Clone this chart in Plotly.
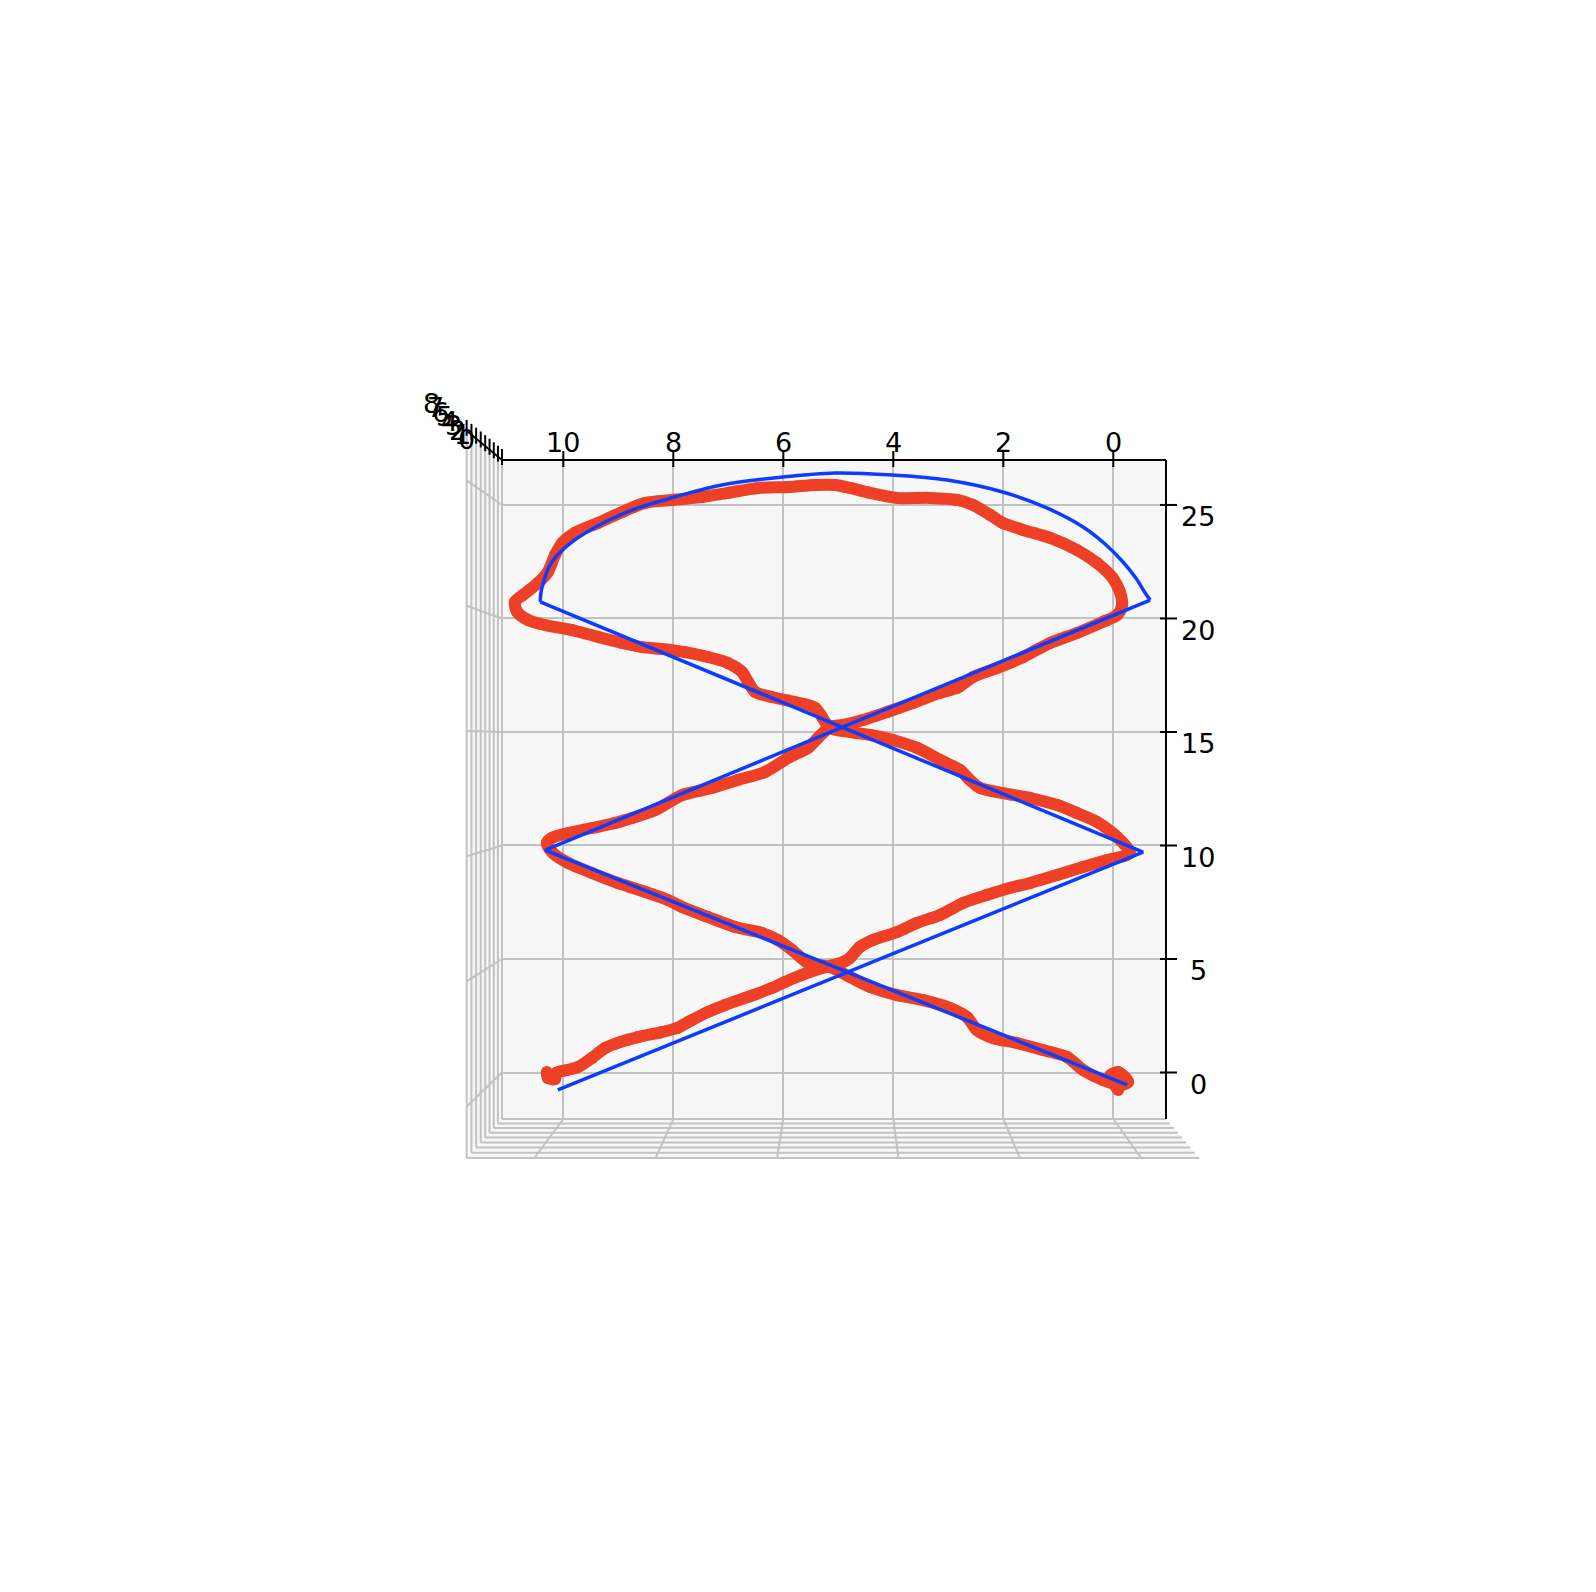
import plotly.graph_objects as go

# ---------------- data ----------------
red_x = [10.30, 10.28, 10.15, 10.13, 9.93, 9.73, 9.48, 9.24, 8.97, 8.64, 8.21, 7.93, 7.73, 7.37, 7.06, 6.64, 6.21, 5.97, 5.66, 5.30,
         4.91, 4.79, 4.61, 4.37, 3.93, 3.57, 3.15, 2.73, 2.30, 1.88, 1.51, 1.02, 0.55, 0.11, -0.30,
         -0.07, 0.30, 0.66, 1.02, 1.51, 2.01, 2.42, 2.61, 2.79, 3.15, 3.57, 4.01, 4.42, 4.79, 5.15, 5.42, 5.79, 6.21, 6.51, 6.64,
         6.75, 7.01, 7.37, 7.79, 8.21, 8.57, 8.93, 9.37, 9.84, 10.33, 10.64, 10.84,
         10.88, 10.73, 10.46, 10.28, 10.15, 10.02, 9.79, 9.37, 8.93, 8.51, 8.02, 7.48, 7.01, 6.46, 5.91, 5.42, 5.06, 4.79, 4.42, 3.93,
         3.33, 2.84, 2.55, 2.24, 2.01, 1.64, 1.15, 0.66, 0.30, 0.01, -0.12, -0.16,
         -0.07, 0.19, 0.66, 1.15, 1.64, 2.11, 2.55, 2.84, 3.15, 3.64, 4.11, 4.55, 4.91, 5.15, 5.37, 5.55, 5.91, 6.33, 6.82, 7.30,
         7.84, 8.33, 8.75, 9.06, 9.48, 9.91, 10.21, 10.30,
         10.19, 9.91, 9.48, 9.01, 8.51, 8.10, 7.84, 7.37, 6.88, 6.39, 6.10, 5.84, 5.55, 5.15, 4.79, 4.42, 3.93, 3.46, 2.97, 2.66,
         2.48, 2.19, 1.75, 1.28, 0.84, 0.55, 0.19, -0.12, -0.27, -0.09, 0.06, -0.09]
red_z = [0.02, -0.24, -0.29, -0.02, 0.11, 0.24, 0.64, 1.08, 1.34, 1.56, 1.78, 1.96, 2.22, 2.67, 2.97, 3.33, 3.72, 3.99, 4.30, 4.60,
         4.87, 5.04, 5.53, 5.84, 6.19, 6.59, 6.94, 7.47, 7.82, 8.13, 8.35, 8.70, 9.05, 9.36, 9.67,
         10.37, 11.04, 11.43, 11.78, 12.09, 12.31, 12.53, 12.89, 13.33, 13.77, 14.30, 14.65, 14.87, 15.00, 15.18, 16.06, 16.32, 16.54, 16.76, 17.20,
         17.64, 18.04, 18.30, 18.52, 18.66, 18.74, 18.92, 19.19, 19.49, 19.71, 19.93, 20.29,
         20.73, 21.04, 21.57, 22.05, 22.80, 23.33, 23.77, 24.21, 24.69, 25.09, 25.22, 25.35, 25.53, 25.75, 25.79, 25.88, 25.88, 25.75, 25.53, 25.31,
         25.31, 25.22, 25.00, 24.56, 24.21, 23.90, 23.55, 23.02, 22.45, 21.78, 21.17, 20.59,
         20.15, 19.85, 19.36, 18.92, 18.30, 17.82, 17.42, 16.94, 16.72, 16.28, 15.88, 15.53, 15.31, 15.22, 14.74, 14.30, 13.86, 13.24, 12.89, 12.53,
         12.22, 11.56, 11.21, 10.99, 10.77, 10.55, 10.33, 10.11,
         9.67, 9.23, 8.79, 8.35, 7.95, 7.60, 7.29, 6.85, 6.41, 6.15, 5.84, 5.40, 4.82, 4.65, 4.21, 3.77, 3.41, 3.19, 2.84, 2.44,
         1.87, 1.52, 1.30, 0.99, 0.68, 0.11, -0.33, -0.55, -0.42, 0.02, -0.15, -0.77]

blue_leg1_x = [10.10, -0.54, 10.42]
blue_leg1_z = [-0.77, 9.71, 20.73]
blue_arc_x = [10.42, 10.39, 10.21, 9.84, 9.24, 8.64, 7.97, 7.12, 6.02, 5.06, 4.01, 3.02, 2.01, 1.21, 0.55, 0.15, -0.16, -0.41, -0.58, -0.67]
blue_arc_z = [20.73, 21.34, 22.49, 23.37, 24.25, 24.87, 25.35, 25.88, 26.23, 26.41, 26.32, 26.10, 25.57, 24.87, 24.03, 23.28, 22.53, 21.78, 21.12, 20.81]
blue_leg2_x = [-0.67, 10.33, -0.25]
blue_leg2_z = [20.81, 9.80, -0.55]

x_ticks = [10, 8, 6, 4, 2, 0]
z_ticks = [0, 5, 10, 15, 20, 25]
depth_ticks = [0, 1, 2, 3, 4, 5, 6, 7, 8]

X_RANGE = [11.115, -0.958]
Z_RANGE = [-2.048, 26.98]
DEPTH_RANGE = [0, 8]

# ---------------- geometry ----------------
FIG_W, FIG_H = 1596, 1592
L, T, W, H = 502, 460, 664, 659
CX, CY, KMAX = 844.0, 742.0, 1.1034   # perspective centre and near-side scale
FONT = dict(family="DejaVu Sans", size=27, color="black")
GRID = "#c2c2c2"
PANE = "#f7f7f7"
RED = "#ee4026"
BLUE = "#0b3cff"


def px_of_x(x):
    return L + (x - X_RANGE[0]) / (X_RANGE[1] - X_RANGE[0]) * W


def py_of_z(z):
    return T + H - (z - Z_RANGE[0]) / (Z_RANGE[1] - Z_RANGE[0]) * H


def paper(px, py):
    return (px - L) / W, (T + H - py) / H


def kdepth(d):
    frac = (d - DEPTH_RANGE[0]) / (DEPTH_RANGE[1] - DEPTH_RANGE[0])
    return 1.0 / (1.0 - (1.0 - 1.0 / KMAX) * frac)


def persp(px, py, k):
    return CX + (px - CX) * k, CY + (py - CY) * k


shapes = []


def pline(p0, p1, color=GRID, width=2, layer="below"):
    a = paper(*p0)
    b = paper(*p1)
    shapes.append(dict(type="line", xref="paper", yref="paper", x0=a[0], y0=a[1], x1=b[0], y1=b[1],
                       line=dict(color=color, width=width), layer=layer))


def ppoly(pts, fill):
    pp = [paper(*p) for p in pts]
    path = "M " + " L ".join(f"{x},{y}" for x, y in pp) + " Z"
    shapes.append(dict(type="path", xref="paper", yref="paper", path=path, fillcolor=fill,
                       line=dict(width=0), layer="below"))


left, right, top, bot = L, L + W, T, T + H
# side pane (left strip) and floor
ppoly([(left, top), (left, bot), persp(left, bot, KMAX), persp(left, top, KMAX)], PANE)
ppoly([(left, bot), (right, bot), persp(right, bot, KMAX), persp(left, bot, KMAX)], PANE)

for d in depth_ticks:
    k = kdepth(d)
    pline(persp(left, top, k), persp(left, bot, k))
    pline(persp(left, bot, k), persp(right, bot, k))
for z in z_ticks:
    py = py_of_z(z)
    pline((left, py), persp(left, py, KMAX))
for x in x_ticks:
    px = px_of_x(x)
    pline((px, bot), persp(px, bot, KMAX))

# axis lines
pline((left, top), (right, top), color="black", width=2, layer="above")
pline((right, top), (right, bot), color="black", width=2, layer="above")
pline((left, top), persp(left, top, KMAX), color="black", width=2, layer="above")

annotations = []
for x in x_ticks:
    px = px_of_x(x)
    pline((px, top - 9), (px, top + 7), color="black", width=2, layer="above")
    annotations.append(dict(x=x, xref="x", y=1, yref="paper", yshift=18, text=str(x), showarrow=False,
                            font=FONT, xanchor="center", yanchor="middle"))
for z in z_ticks:
    py = py_of_z(z)
    pline((right - 6, py), (right + 11, py), color="black", width=2, layer="above")
    annotations.append(dict(x=1, xref="paper", xshift=32, y=z, yref="y", yshift=-12, text=str(z),
                            showarrow=False, font=FONT, xanchor="center", yanchor="middle"))
for d in depth_ticks:
    k = kdepth(d)
    tx, ty = persp(left, top, k)
    pline((tx, ty - 11), (tx, ty + 5), color="black", width=2, layer="above")
    frac = (d - DEPTH_RANGE[0]) / (DEPTH_RANGE[1] - DEPTH_RANGE[0])
    lx, ly = paper(466.5 - 35 * frac, 439 - 36 * frac)
    annotations.append(dict(x=lx, xref="paper", y=ly, yref="paper", text=str(d), showarrow=False,
                            font=FONT, xanchor="center", yanchor="middle"))

# ---------------- figure ----------------
fig = go.Figure()
fig.add_trace(go.Scatter(x=red_x, y=red_z, mode="lines+markers",
                         line=dict(color=RED, width=12, shape="spline", smoothing=0.8),
                         marker=dict(color=RED, size=12), showlegend=False, hoverinfo="skip"))
for bx, bz, shp in [(blue_leg1_x, blue_leg1_z, "linear"), (blue_arc_x, blue_arc_z, "spline"),
                    (blue_leg2_x, blue_leg2_z, "linear")]:
    fig.add_trace(go.Scatter(x=bx, y=bz, mode="lines", line=dict(color=BLUE, width=3.5, shape=shp),
                             showlegend=False, hoverinfo="skip"))

fig.update_layout(
    width=FIG_W, height=FIG_H, autosize=False,
    margin=dict(l=L, r=FIG_W - L - W, t=T, b=FIG_H - T - H, pad=0),
    paper_bgcolor="white", plot_bgcolor=PANE,
    shapes=shapes, annotations=annotations, showlegend=False,
    xaxis=dict(range=X_RANGE, tickvals=x_ticks, showgrid=True, gridcolor=GRID, gridwidth=2,
               showticklabels=False, ticks="", showline=False, zeroline=False, fixedrange=True),
    yaxis=dict(range=Z_RANGE, tickvals=z_ticks, showgrid=True, gridcolor=GRID, gridwidth=2,
               showticklabels=False, ticks="", showline=False, zeroline=False, fixedrange=True),
)

fig.write_html("out.html", config={"displayModeBar": False},
               post_script="document.body.style.margin='0';document.body.style.overflow='hidden';")
